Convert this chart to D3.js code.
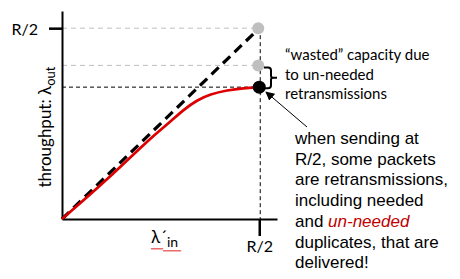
<!DOCTYPE html>
<html>
<head>
<meta charset="utf-8">
<script src="https://cdn.jsdelivr.net/npm/d3@7"></script>
<style>
  body { margin: 0; background: #fff; }
  svg { display: block; }
</style>
</head>
<body>
<div id="chart"></div>
<script>
// values in units of R/2
const idealX = [0, 1];
const idealY = [0, 1];
const curveX = [0, 0.228, 0.447, 0.548, 0.614, 0.685, 0.751, 0.838, 0.919, 1.0];
const curveY = [0, 0.204, 0.424, 0.508, 0.571, 0.623, 0.654, 0.675, 0.686, 0.691];
const grayDots = [1, 0.805];
const blackDot = 0.691;
const tickLabel = 'R/2';
const noteLines = ['\u201cwasted\u201d capacity due', 'to un-needed', 'retransmissions'];
const bodyLines = [
  [['when sending at', false]],
  [['R/2, some packets', false]],
  [['are retransmissions,', false]],
  [['including needed', false]],
  [['and ', false], ['un-needed', true]],
  [['duplicates, that are', false]],
  [['delivered!', false]]
];

const width = 460;
const height = 279;

const svg = d3.select('#chart').append('svg')
  .attr('width', width)
  .attr('height', height);

const xScale = d3.scaleLinear().domain([0, 1.09]).range([62, 277]);
const yScale = d3.scaleLinear().domain([0, 1.09]).range([219, 11]);

const calibri = 'Lato, "Open Sans", sans-serif';
const arial = '"Liberation Sans", Arial, sans-serif';

// guide lines
svg.selectAll('line.gray')
  .data(grayDots)
  .join('line')
  .attr('x1', xScale(0)).attr('x2', xScale(1))
  .attr('y1', (d) => yScale(d)).attr('y2', (d) => yScale(d))
  .attr('stroke', '#bfbfbf').attr('stroke-width', 1)
  .attr('stroke-dasharray', '5,4');

svg.append('line')
  .attr('x1', xScale(0)).attr('x2', xScale(1))
  .attr('y1', yScale(blackDot)).attr('y2', yScale(blackDot))
  .attr('stroke', '#000').attr('stroke-width', 1)
  .attr('stroke-dasharray', '4,3');

svg.append('line')
  .attr('x1', xScale(1) + 1).attr('x2', xScale(1) + 1)
  .attr('y1', yScale(1)).attr('y2', yScale(0))
  .attr('stroke', '#000').attr('stroke-width', 1)
  .attr('stroke-dasharray', '4,3');

// axes
const yAxis = d3.axisLeft(yScale).tickValues([1]).tickFormat(() => tickLabel)
  .tickSize(13).tickSizeOuter(0).tickPadding(11);
const gy = svg.append('g').attr('transform', `translate(${xScale(0)},0)`).call(yAxis);

const xAxis = d3.axisBottom(xScale).tickValues([1]).tickFormat(() => tickLabel)
  .tickSize(17).tickSizeOuter(0).tickPadding(5);
const gx = svg.append('g').attr('transform', `translate(0,${yScale(0)})`).call(xAxis);

[gx, gy].forEach((g) => {
  g.select('.domain').attr('stroke', '#000').attr('stroke-width', 2);
  g.selectAll('.tick line').attr('stroke', '#000').attr('stroke-width', 2.5);
  g.selectAll('.tick text').attr('fill', '#000')
    .style('font-family', calibri).style('font-size', '16px');
});
gy.select('.tick text').attr('dy', '0.4em');

// ideal line
const line = d3.line().x((d) => xScale(d[0])).y((d) => yScale(d[1]));
svg.append('path')
  .datum(d3.zip(idealX, idealY))
  .attr('d', line)
  .attr('fill', 'none')
  .attr('stroke', '#000').attr('stroke-width', 3.2)
  .attr('stroke-dasharray', '10,6');

// red throughput curve
svg.append('path')
  .datum(d3.zip(curveX, curveY))
  .attr('d', line.curve(d3.curveBasis))
  .attr('fill', 'none')
  .attr('stroke', '#dd0000').attr('stroke-width', 2.7);

// dots
svg.selectAll('circle.gray')
  .data(grayDots)
  .join('circle')
  .attr('cx', xScale(1) - 1).attr('cy', (d) => yScale(d))
  .attr('r', 6).attr('fill', '#bfbfbf');

svg.append('circle')
  .attr('cx', xScale(1)).attr('cy', yScale(blackDot))
  .attr('r', 6.5).attr('fill', '#000');

// brace
const bTop = yScale(grayDots[1]) + 2;
const bBot = yScale(blackDot) + 1;
const bMid = (bTop + bBot) / 2;
svg.append('path')
  .attr('d', `M264,${bTop} H268 Q271,${bTop} 271,${bTop + 3} V${bMid - 2} Q271,${bMid} 273,${bMid} H277 M273,${bMid} Q271,${bMid} 271,${bMid + 2} V${bBot - 3} Q271,${bBot} 268,${bBot} H264`)
  .attr('fill', 'none').attr('stroke', '#000').attr('stroke-width', 2);

// arrow
svg.append('defs').append('marker')
  .attr('id', 'arrow')
  .attr('viewBox', '0 0 10 10')
  .attr('refX', 9).attr('refY', 5)
  .attr('markerWidth', 9).attr('markerHeight', 9)
  .attr('markerUnits', 'userSpaceOnUse')
  .attr('orient', 'auto')
  .append('path').attr('d', 'M0,0 L10,5 L0,10 z').attr('fill', '#000');

svg.append('line')
  .attr('x1', 307).attr('y1', 127)
  .attr('x2', 266).attr('y2', 92)
  .attr('stroke', '#000').attr('stroke-width', 1)
  .attr('marker-end', 'url(#arrow)');

// note text
svg.append('text')
  .attr('x', 285).attr('y', 60)
  .style('font-family', calibri).style('font-size', '15px')
  .selectAll('tspan')
  .data(noteLines)
  .join('tspan')
  .attr('x', 285)
  .attr('dy', (d, i) => (i === 0 ? 0 : 19.5))
  .text((d) => d);

// body text
const body = svg.append('g')
  .style('font-family', arial).style('font-size', '17px');
bodyLines.forEach((parts, i) => {
  const t = body.append('text').attr('x', 295).attr('y', 144 + i * 20.7);
  parts.forEach(([s, red]) => {
    const ts = t.append('tspan').text(s);
    if (red) ts.attr('fill', '#c00000').style('font-style', 'italic');
  });
});

// y axis label
const ylab = svg.append('text')
  .attr('transform', 'translate(51,127) rotate(-90)')
  .attr('text-anchor', 'middle')
  .style('font-family', calibri).style('font-size', '17px');
ylab.append('tspan').text('throughput: \u03bb');
ylab.append('tspan').attr('dy', 4).style('font-size', '13px').text('out');

// x axis label
const xlab = svg.append('text')
  .attr('x', 151).attr('y', 243)
  .style('font-family', calibri).style('font-size', '17px');
xlab.append('tspan').text('\u03bb\u00b4');
xlab.append('tspan').attr('dy', 4).style('font-size', '14px').text('in');

// spell-check squiggles
const squiggle = (x0, x1, y) => {
  let d = `M${x0},${y}`;
  for (let x = x0; x < x1; x += 2) d += ` L${x + 1},${y + 1.5} L${x + 2},${y}`;
  return d;
};
svg.append('path').attr('d', squiggle(151, 163, 248))
  .attr('fill', 'none').attr('stroke', '#e03030').attr('stroke-width', 0.8);
svg.append('path').attr('d', squiggle(163, 180, 250))
  .attr('fill', 'none').attr('stroke', '#e03030').attr('stroke-width', 0.8);
</script>
</body>
</html>
